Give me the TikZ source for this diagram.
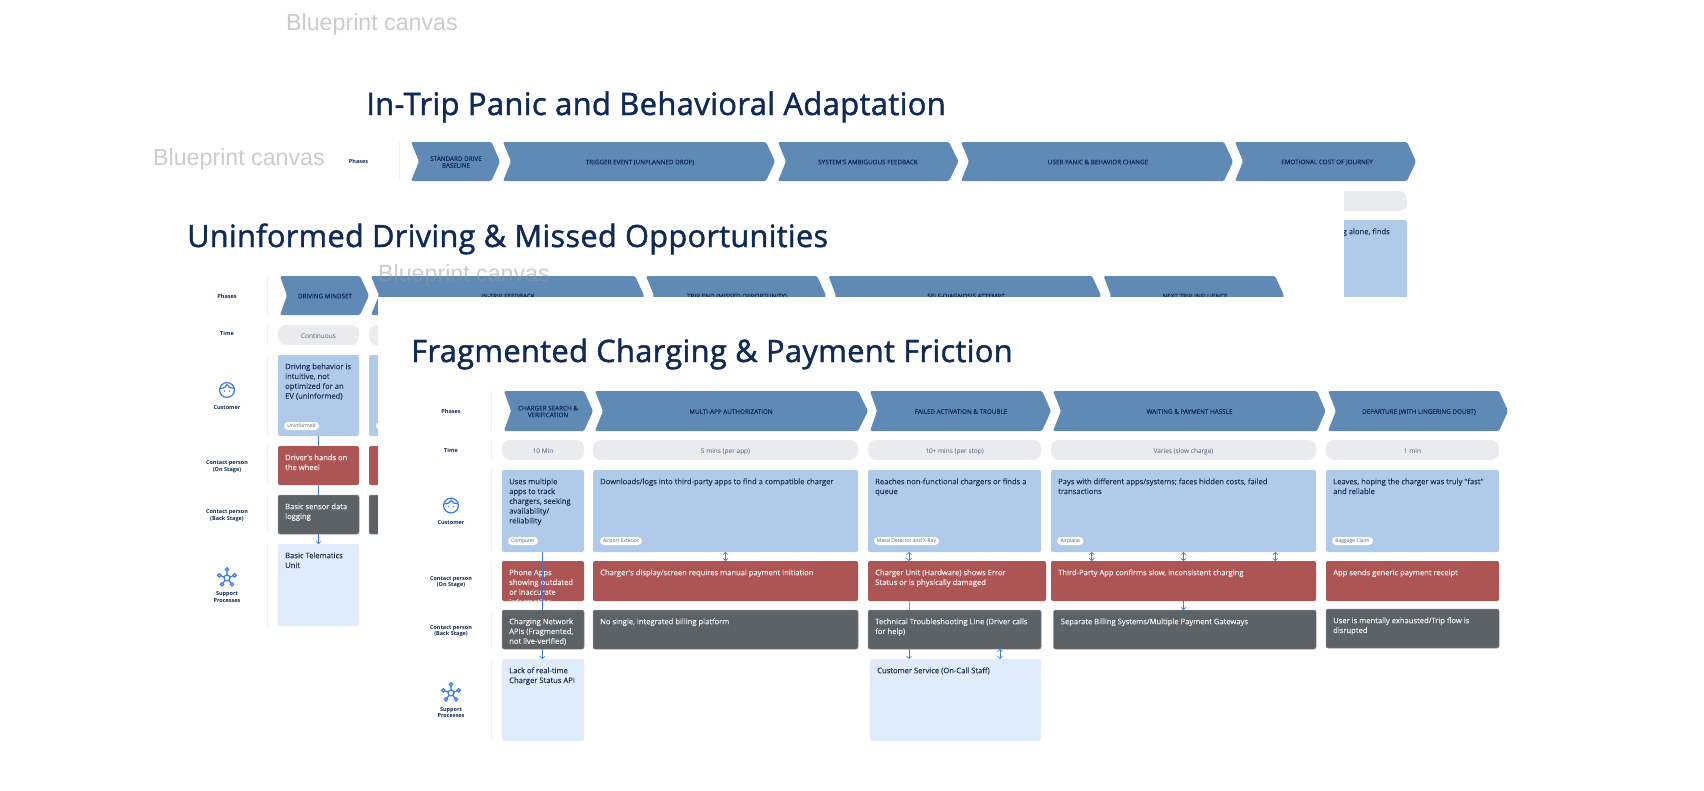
\documentclass[tikz,border=0pt]{standalone}
\usepackage{fontspec}
\usetikzlibrary{arrows.meta}
\setmainfont{Open Sans}
\newfontfamily\ttlfont[FakeBold=1.4,LetterSpace=1]{Open Sans}
\newfontfamily\bodyfont[FakeBold=0.25]{Open Sans}
\newfontfamily\bpfont{Liberation Sans}
\definecolor{navy}{HTML}{0F2A55}
\definecolor{ink}{HTML}{1F3558}
\definecolor{chev}{HTML}{5F8AB5}
\definecolor{cust}{HTML}{B0CBEA}
\definecolor{redc}{HTML}{AD5454}
\definecolor{darkc}{HTML}{5C6266}
\definecolor{supp}{HTML}{E0ECFB}
\definecolor{pillc}{HTML}{E9EBEF}
\definecolor{linkc}{HTML}{3A7BEA}
\definecolor{divc}{HTML}{EEF0F3}
\tikzset{
 evenline/.style={execute at begin node={\vphantom{(}},execute at end node={\vphantom{(}}},
 cellbase/.style={rectangle,inner sep=0pt,outer sep=0pt,rounded corners=2pt},
 custbox/.style={cellbase,fill=cust},
 redbox/.style={cellbase,fill=redc},
 darkbox/.style={cellbase,fill=darkc,draw=darkc!60!cust,line width=.5pt},
 suppbox/.style={cellbase,fill=supp},
 pillbox/.style={cellbase,fill=pillc,rounded corners=8pt},
 tagbox/.style={cellbase,fill=white,rounded corners=4pt,font=\fontsize{5}{5.5}\selectfont,text=ink!80},
 celltext/.style={anchor=north west,inner sep=0pt,align=left,font=\fontsize{7.6}{9.8}\selectfont\bodyfont},
 phasetext/.style={evenline,yshift=-1pt,inner sep=0pt,align=center,text=navy,font=\fontsize{6.3}{6.7}\selectfont\bodyfont},
 timetext/.style={evenline,yshift=-1.5pt,inner sep=0pt,text=ink!80,font=\fontsize{6.5}{7}\selectfont},
 rowlabel/.style={evenline,yshift=-1pt,inner sep=0pt,align=center,text=navy,font=\fontsize{5.5}{6.5}\selectfont\bfseries},
 bptext/.style={inner sep=0pt,anchor=west,text=gray!80,opacity=.5,text opacity=.5,font=\fontsize{23.2}{25}\selectfont\bpfont},
 titletext/.style={inner sep=0pt,anchor=base west,text=navy,font=\fontsize{31}{34}\selectfont\ttlfont},
 linkline/.style={draw=linkc,line width=.7pt},
 linkdown/.style={linkline,-{Straight Barb[length=2.2pt,width=5pt]}},
 linkboth/.style={linkline,{Straight Barb[length=2.2pt,width=5pt]}-{Straight Barb[length=2.2pt,width=5pt]}},
 divline/.style={draw=divc,line width=.6pt},
 iconline/.style={draw=linkc,line width=1.2pt}
}
% name x1 y1 x2 y2 style textcolor text
\newcommand{\cellnode}[8]{%
 \node[#6,minimum width={(#4-#2)*1pt},minimum height={(#5-#3)*1pt}] (#1) at ({(#2+#4)/2},{(#3+#5)/2}) {};
 \node[celltext,text=#7] (#1-t) at ({#2+7},{#3+7}) {\rule{0pt}{7pt}#8};
}
% name x1 x2 ymid text
\newcommand{\pillnode}[5]{%
 \node[pillbox,minimum width={(#3-#2)*1pt},minimum height=20pt] (#1) at ({(#2+#3)/2},#4) {};
 \node[timetext] (#1-t) at (#1) {#5};
}
% name x1 x2 ymid text
\newcommand{\tagnode}[5]{%
 \node[tagbox,minimum width={(#3-#2)*1pt},minimum height=8pt] (#1) at ({(#2+#3)/2},#4) {#5};
}
% name left notch shoulder tip top bottom textx text
\newcommand{\chevnode}[9]{%
 \fill[chev,rounded corners=1.5pt] (#2,#6) -- (#4,#6) -- (#5,{(#6+#7)/2}) -- (#4,#7) -- (#2,#7) -- (#3,{(#6+#7)/2}) -- cycle;
 \node[phasetext] (#1) at (#8,{(#6+#7)/2}) {#9};
}
\newcommand{\custicon}[2]{%
 \begin{scope}[shift={(#1,#2)}]
 \draw[iconline] (0,0) circle [radius=7.4];
 \draw[iconline] (-7,-1.6) .. controls (-3,-1.4) and (-1,-3) .. (0,-5.4) .. controls (1,-3) and (4,-1.4) .. (7,-1.6);
 \fill[linkc] (-2.6,1) circle [radius=.8] (2.6,1) circle [radius=.8];
 \end{scope}}
\newcommand{\suppicon}[2]{%
 \begin{scope}[shift={(#1,#2)}]
 \draw[iconline] (0,0) -- (0,-8.7) (0,0) -- (-7.7,-2.7) (0,0) -- (7.7,-2.7) (0,0) -- (-5,6.3) (0,0) -- (5,6.3);
 \draw[iconline,fill=white] (0,0) circle [radius=3];
 \foreach \p in {(0,-8.7),(-7.7,-2.7),(7.7,-2.7),(-5,6.3),(5,6.3)} \draw[iconline,fill=white] \p circle [radius=1.7];
 \end{scope}}
\begin{document}
\begin{tikzpicture}[x=1pt,y=-1pt]
\useasboundingbox (0,0) rectangle (1704,790);
\fill[white] (0,0) rectangle (1704,790);

%% ---- canvas 1
\node[bptext] (bp1) at (286,25) {Blueprint canvas};
\node[titletext] (title1) at (366,115) {In-Trip Panic and Behavioral Adaptation};
\node[bptext] (bp2) at (153,159) {Blueprint canvas};
\node[rowlabel] (a-phases) at (358.5,161) {Phases};
\draw[divline] (399.5,142) -- (399.5,181);
\chevnode{a1}{411}{419}{491.5}{500}{142}{181}{456}{STANDARD DRIVE\\BASELINE}
\chevnode{a2}{503}{511}{766}{775}{142}{181}{640}{TRIGGER EVENT (UNPLANNED DROP)}
\chevnode{a3}{778}{786}{949}{958.5}{142}{181}{868}{SYSTEM'S AMBIGUOUS FEEDBACK}
\chevnode{a4}{961}{969}{1224}{1233}{142}{181}{1098}{USER PANIC \& BEHAVIOR CHANGE}
\chevnode{a5}{1235}{1243}{1407}{1416}{142}{181}{1327}{EMOTIONAL COST OF JOURNEY}
\node[pillbox,minimum width=120pt,minimum height=20pt] (a-time) at (1347,201) {};
\node[custbox,minimum width=120pt,minimum height=100pt] (a-cust) at (1347,270) {};
\node[celltext,anchor=north east,text=ink] (a-cust-t) at (1390,227) {\rule{0pt}{7pt}g alone, finds};

%% ---- canvas 2 (sheet hides the lower rows of canvas 1)
\fill[white] (160,186) rectangle (1344,790);
\node[titletext,font=\fontsize{30.7}{34}\selectfont\ttlfont] (title2) at (187,247) {Uninformed Driving \& Missed Opportunities};
\node[rowlabel] (b-phases) at (227,296) {Phases};
\node[rowlabel] (b-time) at (227,333) {Time};
\node[rowlabel] (b-cust) at (227,407) {Customer};
\node[rowlabel] (b-on) at (227,465.5) {Contact person\\(On Stage)};
\node[rowlabel] (b-back) at (227,514.5) {Contact person\\(Back Stage)};
\node[rowlabel] (b-supp) at (227,596.5) {Support\\Processes};
\custicon{227}{390}
\suppicon{227}{578}
\foreach \ya/\yb in {276/315,325/345,355/436,446/485,495/534,544/626} \draw[divline] (267,\ya) -- (267,\yb);
\chevnode{b1}{280}{287}{360}{369}{276}{315}{325}{DRIVING MINDSET}
\chevnode{b2}{371}{379}{635}{644}{276}{315}{508}{IN-TRIP FEEDBACK}
\chevnode{b3}{646}{654}{817}{826}{276}{315}{737}{TRIP END (MISSED OPPORTUNITY)}
\chevnode{b4}{828.5}{836}{1092}{1101}{276}{315}{966}{SELF-DIAGNOSIS ATTEMPT}
\chevnode{b5}{1103.6}{1111}{1275}{1284}{276}{315}{1195}{NEXT TRIP INFLUENCE}
\pillnode{b-t1}{278}{359}{335}{Continuous}
\pillnode{b-t2}{369}{450}{335}{}
\cellnode{b-c1}{278}{355}{359}{436}{custbox}{ink}{Driving behavior is\\intuitive, not\\optimized for an\\EV (uninformed)}
\cellnode{b-c2}{369}{355}{450}{436}{custbox}{ink}{}
\tagnode{b-tag1}{284}{319}{426}{Uninformed}
\tagnode{b-tag2}{376}{410}{426}{}
\cellnode{b-r1}{278}{446}{359}{485}{redbox}{white!90!redc}{Driver's hands on\\the wheel}
\cellnode{b-r2}{369}{446}{450}{485}{redbox}{white}{}
\cellnode{b-d1}{278}{495}{359}{534}{darkbox}{white!90!darkc}{Basic sensor data\\logging}
\cellnode{b-d2}{369}{495}{450}{534}{darkbox}{white}{}
\cellnode{b-s1}{278}{544}{359}{626}{suppbox}{ink}{Basic Telematics\\Unit}
\draw[linkline] (b-c1.south) -- (b-r1.north);
\draw[linkline] (b-r1.south) -- (b-d1.north);
\draw[linkdown] (b-d1.south) -- (b-s1.north);
\node[bptext] (bp3) at (378,275) {Blueprint canvas};

%% ---- canvas 3 (sheet hides the lower rows of canvas 2)
\fill[white] (378,297) rectangle (1530,790);
\node[titletext,font=\fontsize{30.85}{34}\selectfont\ttlfont] (title3) at (411,362) {Fragmented Charging \& Payment Friction};
\node[rowlabel] (c-phases) at (451,411) {Phases};
\node[rowlabel] (c-time) at (451,450) {Time};
\node[rowlabel] (c-cust) at (451,522) {Customer};
\node[rowlabel] (c-on) at (451,581) {Contact person\\(On Stage)};
\node[rowlabel] (c-back) at (451,630) {Contact person\\(Back Stage)};
\node[rowlabel] (c-supp) at (451,712) {Support\\Processes};
\custicon{451}{505.5}
\suppicon{451}{693}
\foreach \ya/\yb in {391/431,440/460,470/552,561/601,610/649,659/741} \draw[divline] (491,\ya) -- (491,\yb);
\chevnode{c1}{504}{511}{584}{593}{391}{431}{548}{CHARGER SEARCH \&\\VERIFICATION}
\chevnode{c2}{595}{603}{858}{868}{391}{431}{731}{MULTI-APP AUTHORIZATION}
\chevnode{c3}{870}{877}{1042}{1051}{391}{431}{961}{FAILED ACTIVATION \& TROUBLE}
\chevnode{c4}{1053}{1061}{1317}{1325.5}{391}{431}{1189.5}{WAITING \& PAYMENT HASSLE}
\chevnode{c5}{1328}{1336}{1499}{1508}{391}{431}{1419}{DEPARTURE (WITH LINGERING DOUBT)}
\pillnode{c-t1}{502}{584}{450}{10 Min}
\pillnode{c-t2}{593}{858}{450}{5 mins (per app)}
\pillnode{c-t3}{868}{1041}{450}{10+ mins (per stop)}
\pillnode{c-t4}{1051}{1316}{450}{Varies (slow charge)}
\pillnode{c-t5}{1326}{1499}{450}{1 min}
\cellnode{c-c1}{502}{470}{584}{552}{custbox}{ink}{Uses multiple\\apps to track\\chargers, seeking\\availability/\\reliability}
\cellnode{c-c2}{593}{470}{858}{552}{custbox}{ink}{Downloads/logs into third-party apps to find a compatible charger}
\cellnode{c-c3}{868}{470}{1041}{552}{custbox}{ink}{Reaches non-functional chargers or finds a\\queue}
\cellnode{c-c4}{1051}{470}{1316}{552}{custbox}{ink}{Pays with different apps/systems; faces hidden costs, failed\\transactions}
\cellnode{c-c5}{1326}{470}{1499}{552}{custbox}{ink}{Leaves, hoping the charger was truly "fast"\\and reliable}
\tagnode{c-tag1}{508}{538}{541}{Computer}
\tagnode{c-tag2}{600}{642}{541}{Airport Exterior}
\tagnode{c-tag3}{874}{939}{541}{Metal Detector and X-Ray}
\tagnode{c-tag4}{1057}{1083.5}{541}{Airplane}
\tagnode{c-tag5}{1332}{1373}{541}{Baggage Claim}
\begin{scope}
\clip (502,561) rectangle (584,601);
\cellnode{c-r1}{502}{561}{584}{601}{redbox}{white!90!redc}{Phone Apps\\showing outdated\\or inaccurate\\information}
\end{scope}
\cellnode{c-r2}{593}{561}{858}{601}{redbox}{white!90!redc}{Charger's display/screen requires manual payment initiation}
\cellnode{c-r3}{868}{561}{1046}{601}{redbox}{white!90!redc}{Charger Unit (Hardware) shows Error\\Status or is physically damaged}
\cellnode{c-r4}{1051}{561}{1316}{601}{redbox}{white!90!redc}{Third-Party App confirms slow, inconsistent charging}
\cellnode{c-r5}{1326}{561}{1499}{601}{redbox}{white!90!redc}{App sends generic payment receipt}
\cellnode{c-d1}{502}{610}{584}{649}{darkbox}{white!90!darkc}{Charging Network\\APIs (Fragmented,\\not live-verified)}
\cellnode{c-d2}{593}{610}{858}{649}{darkbox}{white!90!darkc}{No single, integrated billing platform}
\cellnode{c-d3}{868}{610}{1041}{649}{darkbox}{white!90!darkc}{Technical Troubleshooting Line (Driver calls\\for help)}
\cellnode{c-d4}{1053.6}{610}{1316}{649}{darkbox}{white!90!darkc}{Separate Billing Systems/Multiple Payment Gateways}
\cellnode{c-d5}{1326}{609}{1499}{648}{darkbox}{white!90!darkc}{User is mentally exhausted/Trip flow is\\disrupted}
\cellnode{c-s1}{502}{659}{584}{741}{suppbox}{ink}{Lack of real-time\\Charger Status API}
\cellnode{c-s3}{870}{659}{1041}{741}{suppbox}{ink}{Customer Service (On-Call Staff)}
%% connectors
\draw[linkline] ([xshift=-.7pt]c-c1.south) -- ([xshift=-.7pt]c-d1.north);
\draw[linkdown] ([xshift=-.7pt]c-d1.south) -- ([xshift=-.7pt]c-s1.north);
\draw[linkboth] (c-c2.south) -- (c-r2.north);
\draw[linkboth] ([xshift=-45.5pt]c-c3.south) -- ([xshift=-45.5pt]c-c3.south |- c-r3.north);
\draw[linkboth] ([xshift=-91.8pt]c-c4.south) -- ([xshift=-91.8pt]c-c4.south |- c-r4.north);
\draw[linkboth] (c-c4.south) -- (c-r4.north);
\draw[linkboth] ([xshift=91.8pt]c-c4.south) -- ([xshift=91.8pt]c-c4.south |- c-r4.north);
\draw[linkline,draw=linkc!50!cust] ([xshift=-45.5pt]c-c3.south |- c-r3.south) -- ([xshift=-45.5pt]c-c3.south |- c-d3.north);
\draw[linkdown] ([xshift=-45.5pt]c-c3.south |- c-d3.south) -- ([xshift=-45.5pt]c-c3.south |- c-s3.north);
\draw[linkboth] ([xshift=45.5pt]c-c3.south |- c-d3.south) -- ([xshift=45.5pt]c-c3.south |- c-s3.north);
\draw[linkdown] (c-c4.south |- c-r4.south) -- (c-c4.south |- c-d4.north);
\end{tikzpicture}
\end{document}
